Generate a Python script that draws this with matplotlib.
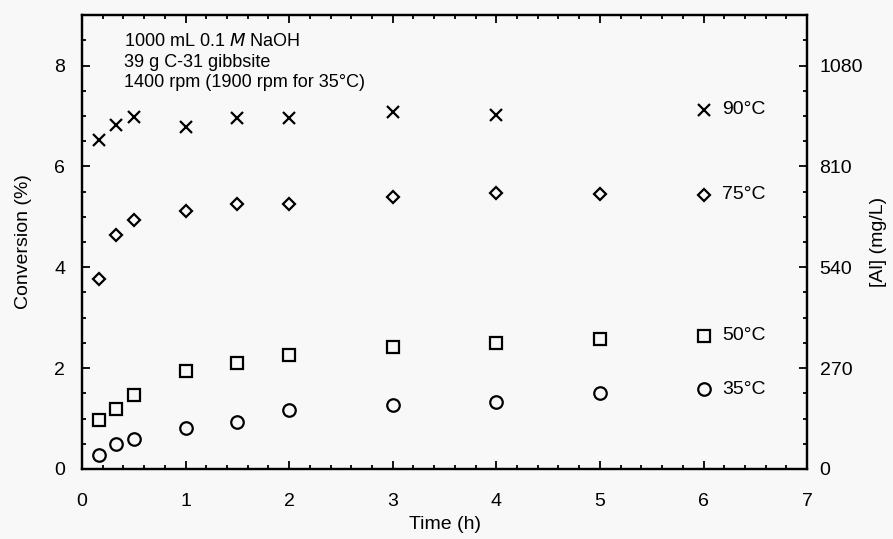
import matplotlib.pyplot as plt
from matplotlib.ticker import MultipleLocator

plt.rcParams['font.family'] = ['Liberation Sans', 'DejaVu Sans']

# time (h) and conversion (%)
t = [0.167, 0.333, 0.5, 1, 1.5, 2, 3, 4, 5, 6]
t90 = [0.167, 0.333, 0.5, 1, 1.5, 2, 3, 4, 6]
conv_90 = [6.52, 6.82, 6.98, 6.78, 6.95, 6.95, 7.07, 7.02, 7.12]
conv_75 = [3.76, 4.64, 4.94, 5.12, 5.26, 5.26, 5.40, 5.48, 5.46, 5.44]
conv_50 = [0.98, 1.18, 1.46, 1.94, 2.10, 2.26, 2.42, 2.50, 2.58, 2.64]
conv_35 = [0.28, 0.50, 0.60, 0.82, 0.94, 1.16, 1.26, 1.32, 1.50, 1.58]

labels = ['90\u00b0C', '75\u00b0C', '50\u00b0C', '35\u00b0C']

al_ticks = [0, 270, 540, 810, 1080]
al_per_pct = 135.0

bg = '#f8f8f8'
fs = 14
fig = plt.figure(figsize=(8.93, 5.39), dpi=100, facecolor=bg)
ax = fig.add_axes([0.0918, 0.130, 0.812, 0.842])
ax.set_facecolor(bg)

ax.plot(t90, conv_90, 'x', color='black', ms=8.5, mew=1.6, ls='none')
ax.plot(t, conv_75, 'D', mfc='none', mec='black', ms=6, mew=1.6, ls='none')
ax.plot(t, conv_50, 's', mfc='none', mec='black', ms=8.5, mew=1.6, ls='none')
ax.plot(t, conv_35, 'o', mfc='none', mec='black', ms=9, mew=1.6, ls='none')

# labels next to the 6 h points
for yv, lab in zip([conv_90[-1], conv_75[-1], conv_50[-1], conv_35[-1]], labels):
    ax.text(6.18, yv, lab, fontsize=fs, va='center', ha='left')

ax.text(0.41, 8.64, '1000 mL 0.1 $\\it{M}$ NaOH\n39 g C-31 gibbsite\n1400 rpm (1900 rpm for 35\u00b0C)',
        fontsize=13, va='top', ha='left', linespacing=1.27)

ax.set_xlim(0, 7)
ax.set_ylim(0, 9)
ax.xaxis.set_major_locator(MultipleLocator(1))
ax.xaxis.set_minor_locator(MultipleLocator(0.2))
ax.yaxis.set_major_locator(MultipleLocator(2))
ax.yaxis.set_minor_locator(MultipleLocator(0.5))
ax.tick_params(which='both', direction='in', top=True, right=False, width=1.3)
ax.tick_params(which='major', length=6, labelsize=fs)
ax.tick_params(which='minor', length=3)
ax.tick_params(axis='x', pad=17)
ax.tick_params(axis='y', pad=12)
for s in ax.spines.values():
    s.set_linewidth(1.6)

ax.set_xlabel('Time (h)', fontsize=fs, labelpad=5)
ax.set_ylabel('Conversion (%)', fontsize=fs, labelpad=16)

ax2 = ax.twinx()
ax2.set_ylim(0, 9 * al_per_pct)
ax2.set_yticks(al_ticks)
ax2.yaxis.set_minor_locator(MultipleLocator(67.5))
ax2.tick_params(which='both', direction='in', width=1.3, labelsize=fs, pad=9)
ax2.tick_params(which='major', length=6)
ax2.tick_params(which='minor', length=3)
ax2.set_ylabel('[Al] (mg/L)', fontsize=fs, labelpad=5)
for s in ax2.spines.values():
    s.set_linewidth(1.6)

fig.savefig('out.png', dpi=100, facecolor=bg)
